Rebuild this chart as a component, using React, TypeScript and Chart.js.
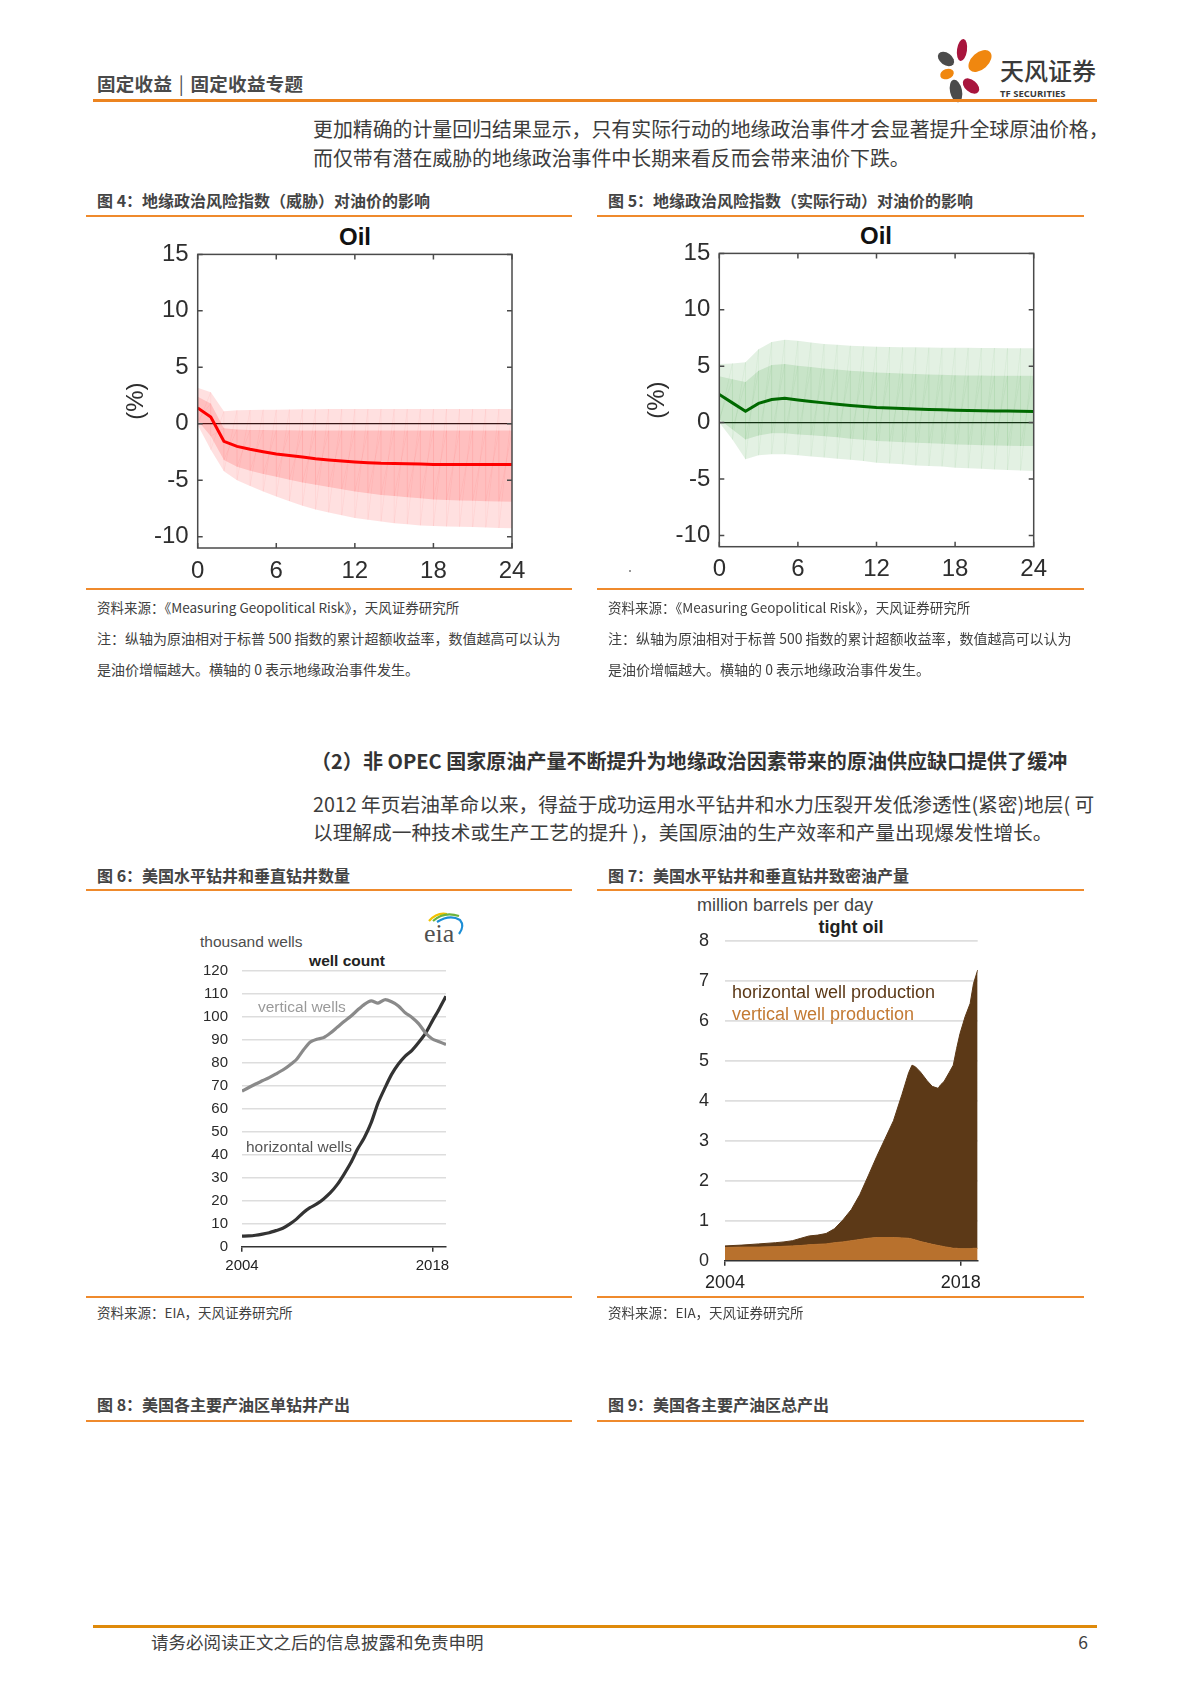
import React, { useEffect, useRef } from "react";
import { Chart, registerables } from "chart.js";
Chart.register(...registerables);

// ---------- data: impulse responses (Fig 4 / Fig 5) ----------
const HORIZON = [0, 1, 2, 3, 4, 5, 6, 7, 8, 9, 10, 11, 12, 13, 14, 15, 16, 17, 18, 19, 20, 21, 22, 23, 24];
const IRF_X_TICKS = [0, 6, 12, 18, 24];
const IRF_Y_TICKS = [-10, -5, 0, 5, 10, 15];

const THREAT_MEDIAN = [1.4, 0.6, -1.55, -2.0, -2.25, -2.47, -2.67, -2.8, -2.95, -3.1, -3.2, -3.3, -3.38, -3.45, -3.5, -3.52, -3.55, -3.57, -3.6, -3.6, -3.6, -3.6, -3.6, -3.6, -3.6];
const THREAT_OUTER_UP = [3.2, 2.8, 1.1, 1.2, 1.22, 1.25, 1.25, 1.27, 1.28, 1.28, 1.3, 1.3, 1.3, 1.3, 1.3, 1.3, 1.3, 1.3, 1.3, 1.3, 1.3, 1.3, 1.3, 1.3, 1.3];
const THREAT_OUTER_LO = [-0.1, -2.3, -4.2, -5.0, -5.5, -6.0, -6.45, -6.85, -7.25, -7.6, -7.85, -8.1, -8.35, -8.5, -8.65, -8.8, -8.9, -9.0, -9.05, -9.1, -9.12, -9.15, -9.18, -9.22, -9.26];
const THREAT_INNER_UP = [2.4, 1.8, -0.4, -0.5, -0.55, -0.55, -0.58, -0.58, -0.6, -0.6, -0.6, -0.6, -0.6, -0.6, -0.6, -0.6, -0.6, -0.6, -0.6, -0.6, -0.6, -0.6, -0.6, -0.6, -0.6];
const THREAT_INNER_LO = [0.3, -1.1, -3.2, -3.8, -4.15, -4.45, -4.7, -4.95, -5.2, -5.4, -5.6, -5.8, -6.0, -6.15, -6.3, -6.4, -6.5, -6.6, -6.7, -6.75, -6.8, -6.82, -6.85, -6.88, -6.9];

const ACT_MEDIAN = [2.5, 1.75, 1.0, 1.7, 2.05, 2.15, 2.0, 1.87, 1.75, 1.63, 1.52, 1.43, 1.35, 1.3, 1.25, 1.2, 1.17, 1.13, 1.1, 1.07, 1.05, 1.03, 1.02, 1.0, 0.98];
const ACT_OUTER_UP = [5.2, 5.25, 5.35, 6.5, 7.15, 7.35, 7.25, 7.1, 6.97, 6.9, 6.82, 6.77, 6.73, 6.7, 6.68, 6.67, 6.65, 6.64, 6.64, 6.63, 6.62, 6.62, 6.6, 6.6, 6.6];
const ACT_OUTER_LO = [0, -1.5, -3.25, -2.9, -2.8, -2.8, -2.9, -3.0, -3.1, -3.2, -3.3, -3.4, -3.55, -3.62, -3.7, -3.8, -3.85, -3.9, -4.0, -4.05, -4.1, -4.15, -4.2, -4.25, -4.3];
const ACT_INNER_UP = [4.1, 3.85, 3.6, 4.6, 5.1, 5.2, 5.05, 4.92, 4.8, 4.7, 4.6, 4.52, 4.45, 4.4, 4.35, 4.3, 4.27, 4.24, 4.2, 4.18, 4.17, 4.16, 4.15, 4.15, 4.15];
const ACT_INNER_LO = [0.3, -0.6, -1.5, -1.15, -0.95, -0.95, -1.05, -1.12, -1.2, -1.3, -1.42, -1.52, -1.62, -1.68, -1.73, -1.78, -1.83, -1.88, -1.93, -1.97, -2.0, -2.03, -2.05, -2.07, -2.08];

// ---------- data: well count (Fig 6) ----------
const YEAR_TICKS = [2004, 2018];
const WELL_Y_TICKS = [0, 10, 20, 30, 40, 50, 60, 70, 80, 90, 100, 110, 120];
const WELL_YEARS = [2004, 2004.5, 2005, 2005.5, 2006, 2006.5, 2007, 2007.5, 2008, 2008.5, 2009, 2009.5, 2010, 2010.5, 2011, 2011.5, 2012, 2012.5, 2013, 2013.5, 2014, 2014.5, 2015, 2015.5, 2016, 2016.5, 2017, 2017.5, 2018, 2018.5, 2019];
const VERTICAL_WELLS = [67.7, 69.3, 70.8, 72.2, 73.6, 75.2, 76.9, 79.0, 81.5, 85.5, 89.0, 90.3, 91.0, 93.0, 95.5, 98.0, 100.3, 103.0, 105.5, 107.0, 106.0, 107.5, 106.6, 104.8, 101.8, 99.8, 97.0, 93.0, 90.4, 89.2, 88.0];
const HORIZONTAL_WELLS = [4.6, 4.7, 5.0, 5.5, 6.1, 7.0, 8.0, 9.8, 12.0, 14.8, 17.0, 18.6, 20.8, 23.5, 27.0, 31.5, 36.5, 42.5, 47.5, 54.0, 62.5, 69.0, 75.0, 79.5, 83.0, 85.5, 89.0, 93.0, 98.3, 103.5, 109.0];

// ---------- data: tight oil production (Fig 7) ----------
const TIGHT_Y_TICKS = [0, 1, 2, 3, 4, 5, 6, 7, 8];
const TIGHT_YEARS = [2004, 2005, 2006, 2007, 2007.5, 2008, 2008.5, 2009, 2009.5, 2010, 2010.5, 2011, 2011.5, 2012, 2012.5, 2013, 2013.5, 2014, 2014.5, 2014.9, 2015.1, 2015.3, 2015.6, 2016, 2016.3, 2016.65, 2016.8, 2017, 2017.3, 2017.55, 2017.75, 2017.95, 2018.25, 2018.55, 2018.75, 2019];
const VERTICAL_PROD = [0.33, 0.34, 0.34, 0.35, 0.36, 0.37, 0.38, 0.4, 0.41, 0.42, 0.45, 0.47, 0.5, 0.53, 0.56, 0.58, 0.58, 0.58, 0.57, 0.56, 0.54, 0.52, 0.48, 0.44, 0.41, 0.38, 0.37, 0.35, 0.33, 0.31, 0.31, 0.3, 0.3, 0.3, 0.31, 0.31];
const HORIZONTAL_PROD = [0.04, 0.05, 0.08, 0.1, 0.11, 0.13, 0.18, 0.22, 0.23, 0.26, 0.35, 0.55, 0.78, 1.12, 1.56, 2.02, 2.47, 2.92, 3.58, 4.14, 4.35, 4.33, 4.24, 4.06, 3.95, 3.93, 4.03, 4.13, 4.37, 4.58, 5.0, 5.38, 5.8, 6.13, 6.62, 6.96];

// ---------- helpers ----------
const CJK = '"Noto Sans CJK SC", "Noto Sans", sans-serif';
const SANS = '"Liberation Sans", Arial, sans-serif';
const ORANGE = "#ef8a2c";

const pts = (xs: number[], ys: number[]) => xs.map((x, i) => ({ x, y: ys[i] }));
const setTicks = (vals: number[]) => (s: any) => {
  s.ticks = vals.map((v) => ({ value: v }));
};

const matlabBox = {
  id: "matlabBox",
  afterDraw(chart: any) {
    const { ctx, chartArea: a, scales } = chart;
    ctx.save();
    ctx.strokeStyle = "#4a4a4a";
    ctx.lineWidth = 1.5;
    ctx.strokeRect(a.left, a.top, a.right - a.left, a.bottom - a.top);
    const L = 5;
    ctx.beginPath();
    for (const t of scales.x.ticks) {
      const px = scales.x.getPixelForValue(t.value);
      ctx.moveTo(px, a.bottom);
      ctx.lineTo(px, a.bottom - L);
      ctx.moveTo(px, a.top);
      ctx.lineTo(px, a.top + L);
    }
    for (const t of scales.y.ticks) {
      const py = scales.y.getPixelForValue(t.value);
      ctx.moveTo(a.left, py);
      ctx.lineTo(a.left + L, py);
      ctx.moveTo(a.right, py);
      ctx.lineTo(a.right - L, py);
    }
    ctx.stroke();
    ctx.restore();
  },
};

const meshPlugin = (bands: number[][][], color: string) => ({
  id: "mesh",
  beforeDatasetsDraw(chart: any) {
    const { ctx, chartArea: a, scales } = chart;
    const X = (v: number) => scales.x.getPixelForValue(v);
    const Y = (v: number) => scales.y.getPixelForValue(v);
    ctx.save();
    ctx.beginPath();
    ctx.rect(a.left, a.top, a.right - a.left, a.bottom - a.top);
    ctx.clip();
    ctx.strokeStyle = color;
    ctx.lineWidth = 1;
    ctx.beginPath();
    for (const [up, lo] of bands) {
      for (let i = 0; i < HORIZON.length; i++) {
        ctx.moveTo(X(HORIZON[i]), Y(lo[i]));
        ctx.lineTo(X(HORIZON[i]), Y(up[i]));
        if (i < HORIZON.length - 1) {
          ctx.moveTo(X(HORIZON[i]), Y(lo[i]));
          ctx.lineTo(X(HORIZON[i + 1]), Y(up[i + 1]));
        }
      }
    }
    ctx.stroke();
    ctx.restore();
  },
});

function irfConfig(o: any) {
  const font = { family: SANS, size: 24 };
  const band = (data: number[], fill: any, color: string) => ({
    data: pts(HORIZON, data),
    borderWidth: 0,
    borderColor: "rgba(0,0,0,0)",
    backgroundColor: color,
    pointRadius: 0,
    fill,
  });
  return {
    type: "line",
    data: {
      datasets: [
        band(o.outerUp, "+1", o.outerFill),
        band(o.outerLo, false, o.outerFill),
        band(o.innerUp, "+1", o.innerFill),
        band(o.innerLo, false, o.innerFill),
        {
          data: pts(HORIZON, o.median),
          borderColor: o.lineColor,
          borderWidth: 3,
          pointRadius: 0,
          fill: false,
        },
      ],
    },
    options: {
      animation: false,
      responsive: false,
      devicePixelRatio: 1,
      layout: { padding: { left: o.padLeft, top: 0, right: o.padRight, bottom: 0 } },
      plugins: { legend: { display: false }, tooltip: { enabled: false } },
      scales: {
        x: {
          type: "linear",
          min: 0,
          max: 24,
          afterBuildTicks: setTicks(IRF_X_TICKS),
          afterFit: (s: any) => {
            s.height = o.xHeight;
          },
          grid: { display: false, drawTicks: false },
          border: { display: false },
          ticks: { font, color: "#2e2e2e", padding: o.xPad, maxRotation: 0 },
        },
        y: {
          type: "linear",
          min: -11,
          max: 15,
          afterBuildTicks: setTicks(IRF_Y_TICKS),
          afterFit: (s: any) => {
            s.width = o.yWidth;
          },
          grid: {
            drawTicks: false,
            lineWidth: 1.2,
            color: (c: any) => (c.tick && c.tick.value === 0 ? "#1a1a1a" : "rgba(0,0,0,0)"),
          },
          border: { display: false },
          ticks: { font, color: "#2e2e2e", padding: 9 },
          title: { display: true, text: "(%)", font, color: "#2e2e2e", padding: { top: 4, bottom: 4 } },
        },
      },
    },
    plugins: [meshPlugin([[o.outerUp, o.outerLo], [o.innerUp, o.innerLo]], o.meshColor), matlabBox],
  };
}

function wellConfig() {
  const font = { family: SANS, size: 15 };
  return {
    type: "line",
    data: {
      datasets: [
        { data: pts(WELL_YEARS, VERTICAL_WELLS), borderColor: "#8a8a8a", borderWidth: 3.2, pointRadius: 0, tension: 0.25, fill: false },
        { data: pts(WELL_YEARS, HORIZONTAL_WELLS), borderColor: "#333333", borderWidth: 3.2, pointRadius: 0, tension: 0.25, fill: false },
      ],
    },
    options: {
      animation: false,
      responsive: false,
      devicePixelRatio: 1,
      layout: { padding: { left: 0, top: 0, right: 14, bottom: 0 } },
      plugins: { legend: { display: false }, tooltip: { enabled: false } },
      scales: {
        x: {
          type: "linear",
          min: 2004,
          max: 2019,
          afterBuildTicks: setTicks(YEAR_TICKS),
          afterFit: (s: any) => {
            s.height = 33.3;
          },
          grid: { display: true, drawOnChartArea: false, drawTicks: true, tickLength: 5, color: "#333", lineWidth: 1.5 },
          border: { display: true, color: "#333", width: 1.5 },
          ticks: { font, color: "#222", padding: 5, maxRotation: 0, callback: (v: any) => String(v) },
        },
        y: {
          type: "linear",
          min: 0,
          max: 120,
          afterBuildTicks: setTicks(WELL_Y_TICKS),
          afterFit: (s: any) => {
            s.width = 92;
          },
          grid: { drawTicks: false, lineWidth: 1.6, color: (c: any) => (c.tick && c.tick.value === 0 ? "rgba(0,0,0,0)" : "#dddddd") },
          border: { display: false },
          ticks: { font, color: "#2a2a2a", padding: 14 },
        },
      },
    },
  };
}

function tightConfig() {
  const font = { family: SANS, size: 18 };
  return {
    type: "line",
    data: {
      datasets: [
        { data: pts(TIGHT_YEARS, VERTICAL_PROD), borderColor: "#b8712d", backgroundColor: "#b8712d", borderWidth: 1, pointRadius: 0, fill: "origin" },
        { data: pts(TIGHT_YEARS, HORIZONTAL_PROD), borderColor: "#5c3917", backgroundColor: "#5c3917", borderWidth: 1, pointRadius: 0, fill: "-1" },
      ],
    },
    options: {
      animation: false,
      responsive: false,
      devicePixelRatio: 1,
      layout: { padding: { left: 0, top: 0, right: 12.3, bottom: 0 } },
      plugins: { legend: { display: false }, tooltip: { enabled: false } },
      scales: {
        x: {
          type: "linear",
          min: 2004,
          max: 2019,
          afterBuildTicks: setTicks(YEAR_TICKS),
          afterFit: (s: any) => {
            s.height = 39.3;
          },
          grid: { display: true, drawOnChartArea: false, drawTicks: true, tickLength: 5, color: "#333", lineWidth: 1.5 },
          border: { display: true, color: "#333", width: 1.5, z: 1 },
          ticks: { font, color: "#222", padding: 6.2, maxRotation: 0, callback: (v: any) => String(v) },
        },
        y: {
          type: "linear",
          stacked: true,
          min: 0,
          max: 8,
          afterBuildTicks: setTicks(TIGHT_Y_TICKS),
          afterFit: (s: any) => {
            s.width = 65;
          },
          grid: { drawTicks: false, lineWidth: 1.8, color: (c: any) => (c.tick && c.tick.value === 0 ? "rgba(0,0,0,0)" : "#dedede") },
          border: { display: false },
          ticks: { font, color: "#2a2a2a", padding: 16 },
        },
      },
    },
  };
}

function ChartBox({ left, top, width, height, make }: any) {
  const ref = useRef<HTMLCanvasElement>(null);
  useEffect(() => {
    const c = new Chart(ref.current as HTMLCanvasElement, make());
    return () => c.destroy();
  }, []);
  return <canvas ref={ref} width={width} height={height} style={{ position: "absolute", left, top, width, height }} />;
}

function T({ x, y, size, children, color = "#3c3c3c", bold = false, family = CJK, align = "left", ls }: any) {
  const style: any = {
    position: "absolute",
    top: y - size / 2,
    fontSize: size,
    lineHeight: `${size}px`,
    color,
    fontWeight: bold ? 700 : 400,
    fontFamily: family,
    whiteSpace: "nowrap",
    letterSpacing: ls,
  };
  if (align === "left") style.left = x;
  else if (align === "center") {
    style.left = x;
    style.transform = "translateX(-50%)";
  } else style.right = 1190 - x;
  return <div style={style}>{children}</div>;
}

function HL({ x1, x2, y, h = 1.5, color = ORANGE }: any) {
  return <div style={{ position: "absolute", left: x1, top: y - h / 2, width: x2 - x1, height: h, background: color }} />;
}

function Logo() {
  return (
    <svg style={{ position: "absolute", left: 930, top: 34, overflow: "visible" }} width={180} height={72}>
      <g transform="translate(-930,-34)">
        <ellipse cx={946} cy={59} rx={9} ry={6} transform="rotate(35 946 59)" fill="#4b4b4b" />
        <ellipse cx={962} cy={50} rx={5} ry={11} transform="rotate(8 962 50)" fill="#a8153d" />
        <ellipse cx={980} cy={61} rx={13.5} ry={8.5} transform="rotate(-42 980 61)" fill="#f0870f" />
        <ellipse cx={947} cy={74} rx={7} ry={5} transform="rotate(-20 947 74)" fill="#f0870f" />
        <ellipse cx={971} cy={86} rx={9.5} ry={6} transform="rotate(40 971 86)" fill="#a8153d" />
        <ellipse cx={956} cy={91} rx={6} ry={11.5} transform="rotate(-12 956 91)" fill="#4b4b4b" />
        <text x={1000} y={80} fontFamily={CJK} fontSize={24} fontWeight={500} fill="#3a3a3a">天风证券</text>
        <text x={1000} y={97} fontFamily={'"Open Sans", "Liberation Sans", sans-serif'} fontSize={9.5} fontWeight={700} fill="#3a3a3a">TF SECURITIES</text>
      </g>
    </svg>
  );
}

function EiaLogo() {
  return (
    <svg style={{ position: "absolute", left: 418, top: 906, overflow: "visible" }} width={50} height={40}>
      <g transform="translate(-418,-906)">
        <path d="M429 921 Q437 912 447 914" stroke="#f2c200" strokeWidth={2.2} fill="none" />
        <path d="M433 921 Q444 911 459 916" stroke="#6cb33e" strokeWidth={2.2} fill="none" />
        <path d="M437 922 Q450 914 460 920 Q465 926 459 934" stroke="#1c8ed6" strokeWidth={2.2} fill="none" />
        <text x={424} y={942} fontFamily={'"Liberation Serif", "DejaVu Serif", serif'} fontSize={26} fill="#505050">eia</text>
      </g>
    </svg>
  );
}

export default function App() {
  return (
    <div style={{ position: "absolute", left: 0, top: 0, width: 1190, height: 1683, background: "#fff", overflow: "hidden" }}>
      {/* header */}
      <T x={97} y={83} size={18.5} bold color="#4a4a4a" ls={0.3}>固定收益 <span style={{ margin: "0 2px", fontWeight: 400 }}>|</span> 固定收益专题</T>
      <Logo />
      <HL x1={93} x2={1097} y={100} h={3} color="#ec8420" />

      <T x={313} y={129} size={19.9}>更加精确的计量回归结果显示，只有实际行动的地缘政治事件才会显著提升全球原油价格，</T>
      <T x={313} y={158} size={19.9}>而仅带有潜在威胁的地缘政治事件中长期来看反而会带来油价下跌。</T>

      {/* figure 4 / 5 */}
      <T x={97} y={200} size={16} bold color="#444">图 4：地缘政治风险指数（威胁）对油价的影响</T>
      <T x={608} y={200} size={16} bold color="#444">图 5：地缘政治风险指数（实际行动）对油价的影响</T>
      <HL x1={86} x2={572} y={216} />
      <HL x1={597} x2={1084} y={216} />

      <T x={355} y={237} size={24} bold family={SANS} color="#111" align="center">Oil</T>
      <T x={876} y={236} size={24} bold family={SANS} color="#111" align="center">Oil</T>

      <ChartBox
        left={100}
        top={231}
        width={440}
        height={354}
        make={() =>
          irfConfig({
            median: THREAT_MEDIAN,
            outerUp: THREAT_OUTER_UP,
            outerLo: THREAT_OUTER_LO,
            innerUp: THREAT_INNER_UP,
            innerLo: THREAT_INNER_LO,
            lineColor: "#ff0000",
            outerFill: "rgba(255,0,0,0.12)",
            innerFill: "rgba(255,0,0,0.15)",
            meshColor: "rgba(255,0,0,0.05)",
            padLeft: 17.6,
            padRight: 28,
            yWidth: 80.1,
            xHeight: 37,
            xPad: 8.6,
          })
        }
      />
      <ChartBox
        left={620}
        top={230}
        width={440}
        height={355}
        make={() =>
          irfConfig({
            median: ACT_MEDIAN,
            outerUp: ACT_OUTER_UP,
            outerLo: ACT_OUTER_LO,
            innerUp: ACT_INNER_UP,
            innerLo: ACT_INNER_LO,
            lineColor: "#006400",
            outerFill: "rgba(0,128,0,0.11)",
            innerFill: "rgba(0,128,0,0.12)",
            meshColor: "rgba(0,128,0,0.05)",
            padLeft: 18.6,
            padRight: 26.3,
            yWidth: 80.7,
            xHeight: 38.3,
            xPad: 7.9,
          })
        }
      />
      <div style={{ position: "absolute", left: 629, top: 570, width: 2, height: 2, background: "#999" }} />

      <HL x1={86} x2={572} y={589} />
      <HL x1={597} x2={1084} y={589} />

      <T x={97} y={608} size={13.5} color="#404040">资料来源：《Measuring Geopolitical Risk》，天风证券研究所</T>
      <T x={97} y={638} size={14} color="#404040">注：纵轴为原油相对于标普 500 指数的累计超额收益率，数值越高可以认为</T>
      <T x={97} y={669} size={14} color="#404040">是油价增幅越大。横轴的 0 表示地缘政治事件发生。</T>
      <T x={608} y={608} size={13.5} color="#404040">资料来源：《Measuring Geopolitical Risk》，天风证券研究所</T>
      <T x={608} y={638} size={14} color="#404040">注：纵轴为原油相对于标普 500 指数的累计超额收益率，数值越高可以认为</T>
      <T x={608} y={669} size={14} color="#404040">是油价增幅越大。横轴的 0 表示地缘政治事件发生。</T>

      {/* section 2 */}
      <T x={311} y={761} size={20.05} bold color="#333">（2）非 OPEC 国家原油产量不断提升为地缘政治因素带来的原油供应缺口提供了缓冲</T>
      <T x={313} y={804} size={19.7}>2012 年页岩油革命以来，得益于成功运用水平钻井和水力压裂开发低渗透性(紧密)地层( 可</T>
      <T x={313} y={832} size={19.7}>以理解成一种技术或生产工艺的提升 )，美国原油的生产效率和产量出现爆发性增长。</T>

      {/* figure 6 / 7 */}
      <T x={97} y={875} size={16} bold color="#444">图 6：美国水平钻井和垂直钻井数量</T>
      <T x={608} y={875} size={16} bold color="#444">图 7：美国水平钻井和垂直钻井致密油产量</T>
      <HL x1={86} x2={572} y={890} />
      <HL x1={597} x2={1084} y={890} />

      <T x={200} y={942} size={15.5} family={SANS} color="#4d4d4d">thousand wells</T>
      <T x={347} y={961} size={15.5} bold family={SANS} color="#222" align="center">well count</T>
      <EiaLogo />
      <ChartBox left={150} top={948} width={310} height={332} make={wellConfig} />
      <T x={258} y={1007} size={15.5} family={SANS} color="#9a9a9a">vertical wells</T>
      <T x={246} y={1147} size={15.5} family={SANS} color="#555">horizontal wells</T>

      <T x={697} y={905} size={18} family={SANS} color="#444">million barrels per day</T>
      <T x={851} y={927} size={18} bold family={SANS} color="#222" align="center">tight oil</T>
      <ChartBox left={660} top={914} width={330} height={386} make={tightConfig} />
      <T x={732} y={992} size={18} family={SANS} color="#5c3917">horizontal well production</T>
      <T x={732} y={1014} size={18} family={SANS} color="#c37a33">vertical well production</T>

      <HL x1={86} x2={572} y={1297} />
      <HL x1={597} x2={1084} y={1297} />
      <T x={97} y={1313} size={13.5} color="#404040">资料来源：EIA，天风证券研究所</T>
      <T x={608} y={1313} size={13.5} color="#404040">资料来源：EIA，天风证券研究所</T>

      {/* figure 8 / 9 */}
      <T x={97} y={1404} size={16} bold color="#444">图 8：美国各主要产油区单钻井产出</T>
      <T x={608} y={1404} size={16} bold color="#444">图 9：美国各主要产油区总产出</T>
      <HL x1={86} x2={572} y={1421} />
      <HL x1={597} x2={1084} y={1421} />

      {/* footer */}
      <HL x1={93} x2={1097} y={1626} h={3} color="#df8a0a" />
      <T x={151} y={1642} size={17.5} color="#404040">请务必阅读正文之后的信息披露和免责申明</T>
      <T x={1088} y={1642} size={17.5} color="#404040" align="right">6</T>
    </div>
  );
}
